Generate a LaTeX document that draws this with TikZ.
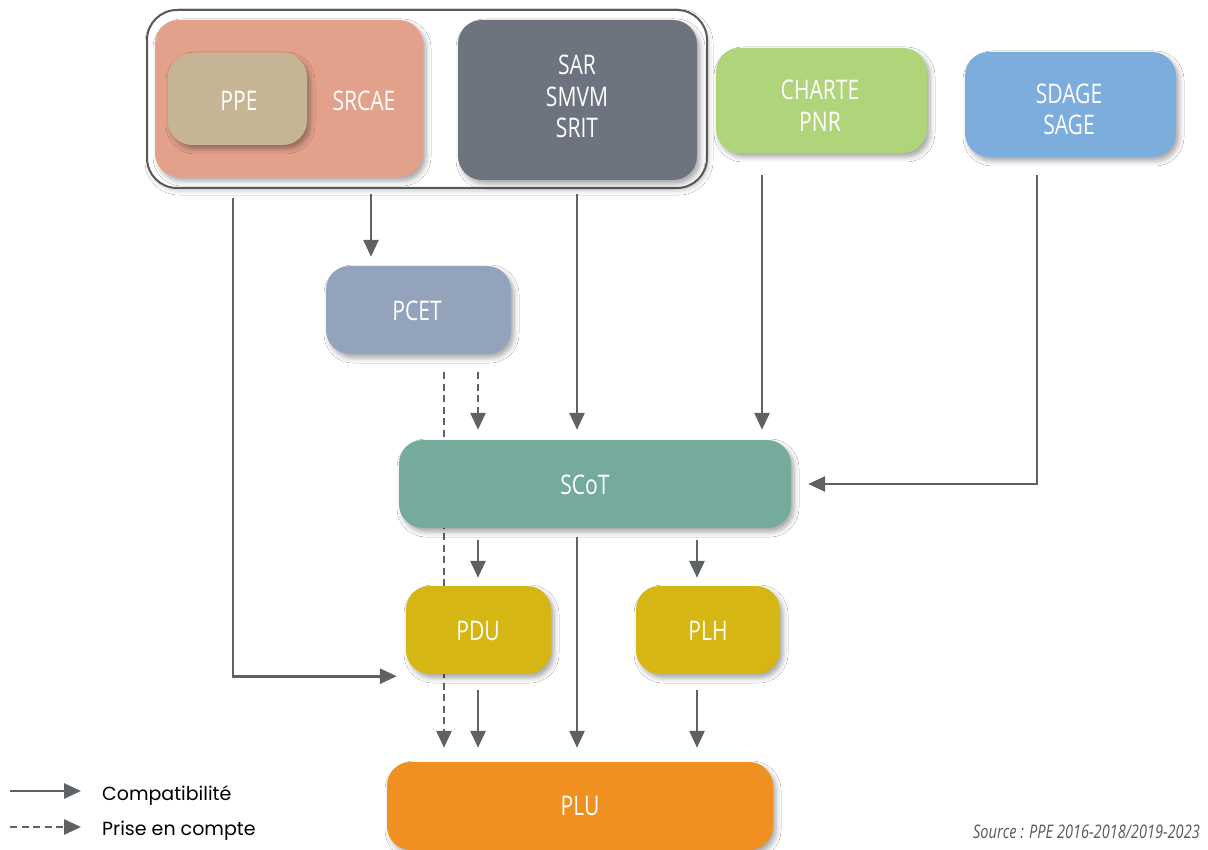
\documentclass[tikz,border=0pt]{standalone}
\usepackage{fontspec}
\setmainfont{Open Sans}
\newfontfamily\boxfont[FakeStretch=0.78]{Open Sans}
\newfontfamily\legendfont{Poppins}
\usetikzlibrary{arrows.meta,shadows.blur,calc,backgrounds}

\definecolor{arrowgray}{HTML}{5E6264}
\definecolor{framegray}{HTML}{58595B}
\definecolor{cSRCAE}{HTML}{E3A18B}
\definecolor{cPPE}{HTML}{C6B594}
\definecolor{cSAR}{HTML}{6D7480}
\definecolor{cPNR}{HTML}{B0D47A}
\definecolor{cSDAGE}{HTML}{7DADDD}
\definecolor{cPCET}{HTML}{93A3BC}
\definecolor{cSCOT}{HTML}{74AB9C}
\definecolor{cPDU}{HTML}{D6B612}
\definecolor{cPLU}{HTML}{EF9020}

\tikzset{
  docbox/.style={rectangle, rounded corners=24pt, inner sep=0pt,
    blur shadow={shadow xshift=3pt, shadow yshift=-4pt,
      shadow blur radius=5pt, shadow opacity=35}},
  boxtext/.style={text=white, align=center, inner sep=0pt,
    font=\boxfont\fontsize{27}{31.5}\selectfont},
  comp/.style={draw=arrowgray, line width=2.8pt,
    -{Triangle[length=17pt,width=15pt]}},
  pce/.style={comp, dash pattern=on 7pt off 4.5pt},
  legendtext/.style={anchor=west, inner sep=0pt,
    font=\legendfont\fontsize{19}{22}\selectfont, text=black},
}

\begin{document}
\begin{tikzpicture}[x=1pt, y=-1pt]
  \useasboundingbox (0,0) rectangle (1208,850);
  \clip (0,0) rectangle (1208,850);

  % column positions of the vertical connectors
  \coordinate (xl) at (233,0);
  \coordinate (xs) at (371,0);
  \coordinate (xsar) at (577,0);
  \coordinate (xpnr) at (762,0);
  \coordinate (xsd) at (1037,0);
  \coordinate (xd1) at (444,0);
  \coordinate (xd2) at (478,0);
  \coordinate (xplh) at (697,0);

  % regional planning group
  \node[draw=framegray, line width=2pt, rounded corners=30pt, fill=white,
        minimum width=560pt, minimum height=178pt, inner sep=0pt,
        blur shadow={shadow xshift=2pt, shadow yshift=-3pt,
          shadow blur radius=4pt, shadow opacity=20}]
        (grp) at (427,99) {};
  \node[docbox, fill=cSRCAE, minimum width=268pt, minimum height=157pt] (srcae) at (289,98.5) {};
  \node[boxtext] (srcaelbl) at (364,101) {SRCAE};
  \node[docbox, fill=cPPE, minimum width=139pt, minimum height=92pt] (ppe) at (237.5,99) {};
  \node[boxtext] (ppelbl) at (239,101) {PPE};
  \node[docbox, fill=cSAR, minimum width=239pt, minimum height=160pt] (sar) at (577.5,100) {};
  \node[boxtext] (sarlbl) at (577,96.5) {SAR\\SMVM\\SRIT};

  \node[docbox, fill=cPNR, minimum width=211pt, minimum height=105pt] (pnr) at (821.5,100.5) {};
  \node[boxtext] (pnrlbl) at (820,105.5) {CHARTE\\PNR};
  \node[docbox, fill=cSDAGE, minimum width=211pt, minimum height=105pt] (sdage) at (1070.5,104.5) {};
  \node[boxtext] (sdagelbl) at (1069,109.5) {SDAGE\\SAGE};

  \node[docbox, fill=cPCET, minimum width=185pt, minimum height=88pt] (pcet) at (418.5,310) {};
  \node[boxtext] (pcetlbl) at (417,311) {PCET};
  \node[docbox, fill=cSCOT, minimum width=392pt, minimum height=88pt] (scot) at (595,484) {};
  \node[boxtext] (scotlbl) at (585,485) {SCoT};
  \node[docbox, fill=cPDU, minimum width=145pt, minimum height=88pt] (pdu) at (478.5,630) {};
  \node[boxtext] (pdulbl) at (478,631) {PDU};
  \node[docbox, fill=cPDU, minimum width=144pt, minimum height=88pt] (plh) at (708,630) {};
  \node[boxtext] (plhlbl) at (708,631) {PLH};
  \node[docbox, fill=cPLU, minimum width=386pt, minimum height=88pt] (plu) at (580,806) {};
  \node[boxtext] (plulbl) at (580,806) {PLU};

  % dashed link from PCET to PLU, running behind SCoT and PDU
  \begin{pgfonlayer}{background}
    \fill[white] (0,0) rectangle (1208,850);
    \draw[pce] ([yshift=-18pt]pcet.south -| xd1) -- ([yshift=14pt]plu.north -| xd1);
  \end{pgfonlayer}

  % compatibility links
  \draw[comp] ([yshift=-5pt]grp.south -| xs) -- ([yshift=9pt]pcet.north -| xs);
  \draw[comp] ([yshift=-9pt]grp.south -| xl) |- ($(pdu.south west)+(-9,2)$);
  \draw[comp] ([yshift=-5pt]grp.south -| xsar) -- ([yshift=10pt]scot.north -| xsar);
  \draw[comp] ([yshift=-22pt]pnr.south -| xpnr) -- ([yshift=10pt]scot.north -| xpnr);
  \draw[comp] ([yshift=-18pt]sdage.south -| xsd) |- ([xshift=17pt]scot.east);
  \draw[comp] ([yshift=-12pt]scot.south -| xd2) -- ([yshift=8pt]pdu.north -| xd2);
  \draw[comp] ([yshift=-12pt]scot.south -| xplh) -- ([yshift=8pt]plh.north -| xplh);
  \draw[comp] ([yshift=-9pt]scot.south -| xsar) -- ([yshift=14pt]plu.north -| xsar);
  \draw[comp] ([yshift=-16pt]pdu.south -| xd2) -- ([yshift=14pt]plu.north -| xd2);
  \draw[comp] ([yshift=-16pt]plh.south -| xplh) -- ([yshift=14pt]plu.north -| xplh);

  % taken-into-account link from PCET to SCoT
  \draw[pce] ([yshift=-18pt]pcet.south -| xd2) -- ([yshift=10pt]scot.north -| xd2);

  % legend
  \coordinate (lg1a) at (10,791);
  \coordinate (lg1b) at (81,791);
  \coordinate (lg2a) at (10,827);
  \coordinate (lg2b) at (81,827);
  \draw[comp] (lg1a) -- (lg1b);
  \draw[pce] (lg2a) -- (lg2b);
  \node[legendtext] (lgcomp) at (102,796) {Compatibilité};
  \node[legendtext] (lgpce) at (102,831) {Prise en compte};

  % source
  \node[anchor=east, inner sep=0pt, text=framegray,
        font=\boxfont\itshape\fontsize{18.7}{22}\selectfont] (src) at (1200,832)
        {Source : PPE 2016-2018/2019-2023};
\end{tikzpicture}
\end{document}
